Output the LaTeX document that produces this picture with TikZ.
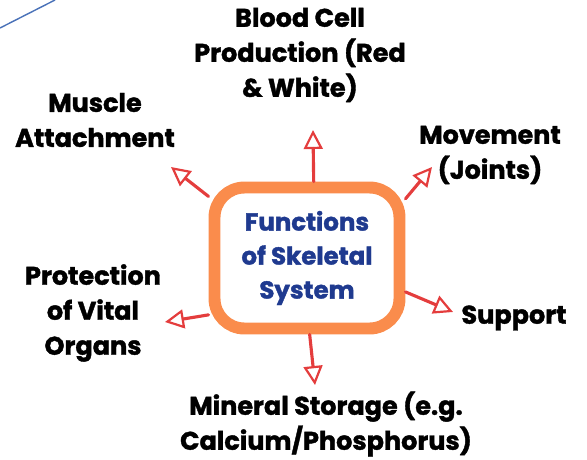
\documentclass[tikz,border=0pt]{standalone}
\usepackage{fontspec}
\setmainfont{Poppins}[BoldFeatures={FakeBold=1.5}]
\usetikzlibrary{arrows.meta}
\definecolor{boxorange}{HTML}{FA8C4C}
\definecolor{titleblue}{HTML}{1F3A8F}
\definecolor{arrowred}{HTML}{E43D3D}
\definecolor{edgeblue}{HTML}{4A72B8}
\tikzset{
  label/.style={align=center,font=\bfseries\fontsize{25.5}{35}\selectfont},
  arr/.style={arrowred,line width=1.1mm,line cap=round,
    -{Triangle[open,length=19pt,width=19pt,line width=2.2pt]}}
}

\begin{document}
\begin{tikzpicture}[x=1pt,y=-1pt]
	\useasboundingbox (0,0) rectangle (587,459);
	\draw [edgeblue,line width=0.5mm] (0,28) -- (55,0);
	\node [draw=boxorange,line width=4.2mm,rounded corners=30pt,minimum width=185pt,minimum height=141pt,
	  align=center,text=titleblue,font=\bfseries\fontsize{24.5}{34}\selectfont] (F) at (307,258) {Functions\\of Skeletal\\System};
	\begin{scope}[every node/.style={label}]
	\node (blood) at (300,55) {Blood Cell\\Production (Red\\\& White)};
	\node (muscle) at (95,120) {Muscle\\Attachment};
	\node (move) at (490,155) {Movement\\(Joints)};
	\node (protect) at (93,313) {Protection\\of Vital\\Organs};
	\node (support) at (514,318) {Support};
	\node (mineral) at (326,424) {Mineral Storage (e.g.\\Calcium/Phosphorus)};
	\end{scope}
	\coordinate (tb) at (313,130);
	\coordinate (tm) at (171,167);
	\coordinate (tj) at (432,167);
	\coordinate (ts) at (453,312);
	\coordinate (tp) at (165,322);
	\coordinate (tc) at (315,385);
	\draw [arr] (F.85) -- (tb);
	\draw [arr] (F.148) -- (tm);
	\draw [arr] (F.31) -- (tj);
	\draw [arr] (F.-19) -- (ts);
	\draw [arr] (F.-150) -- (tp);
	\draw [arr] (F.-88) -- (tc);
\end{tikzpicture}
\end{document}
